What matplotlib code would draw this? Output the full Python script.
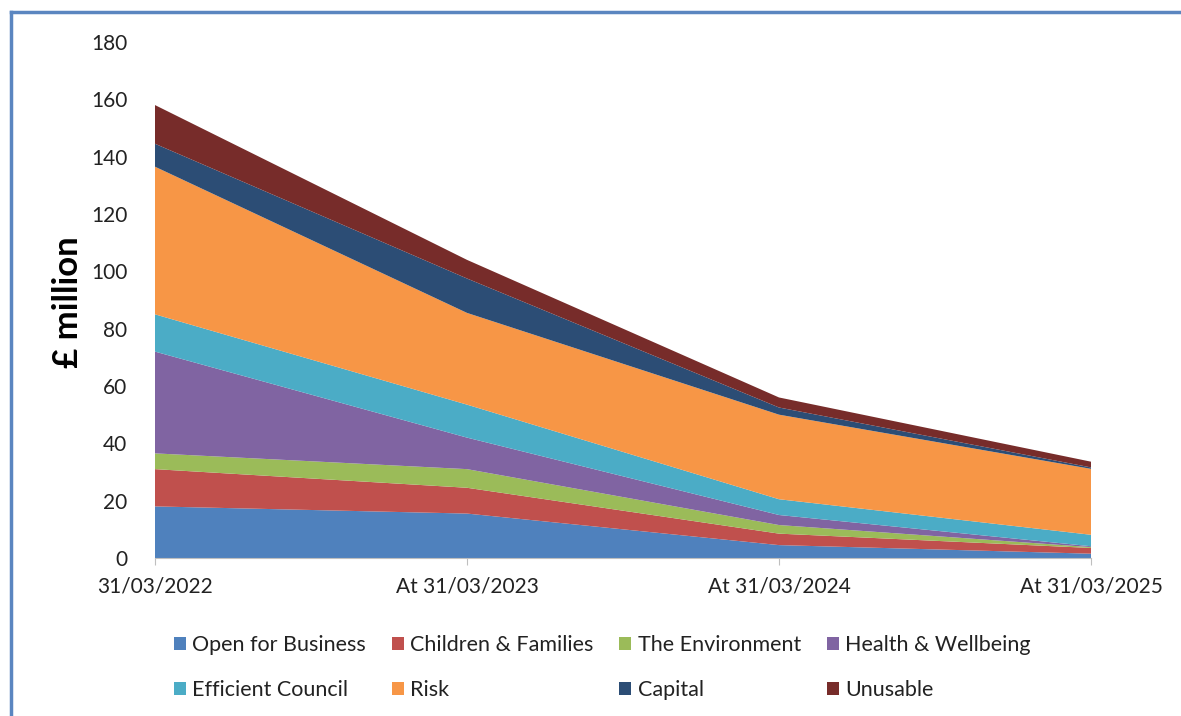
import numpy as np
import matplotlib
matplotlib.use("Agg")
from matplotlib import pyplot as plt
from matplotlib.patches import Patch

dates = ["31/03/2022", "At 31/03/2023", "At 31/03/2024", "At 31/03/2025"]
series = ["Open for Business", "Children & Families", "The Environment", "Health & Wellbeing",
          "Efficient Council", "Risk", "Capital", "Unusable"]
open_business = [18.0, 15.5, 4.5, 1.5]
children_families = [13.0, 9.0, 4.0, 2.0]
environment = [5.5, 6.5, 3.0, 0.3]
health_wellbeing = [35.5, 11.0, 3.5, 0.3]
efficient_council = [13.0, 11.5, 5.5, 4.0]
risk = [51.5, 32.0, 29.5, 23.0]
capital = [8.0, 12.0, 2.5, 0.5]
unusable = [13.5, 6.5, 3.5, 2.0]
colors = ["#4F81BD", "#C0504D", "#9BBB59", "#8064A2", "#4BACC6", "#F79646", "#2C4D75", "#772C2A"]

plt.rcParams["font.family"] = ["Lato", "DejaVu Sans"]

fig = plt.figure(figsize=(11.81, 7.16), dpi=100)
ax = fig.add_axes([155/1181, 1 - 558/716, (1091 - 155)/1181, (558 - 42)/716])

x = np.arange(len(dates))
values = [open_business, children_families, environment, health_wellbeing,
          efficient_council, risk, capital, unusable]
ax.stackplot(x, values, colors=colors, labels=series, linewidth=0)

ax.set_xlim(0, 3)
ax.set_ylim(0, 180)
ax.set_yticks(range(0, 181, 20))
ax.set_xticks(x)
ax.set_xticklabels(dates)
ax.tick_params(axis="y", length=0, pad=20, labelsize=15, labelcolor="#222222")
ax.tick_params(axis="x", length=5, color="#BFBFBF", pad=8, labelsize=15, labelcolor="#222222")
for s in ["top", "right", "left"]:
    ax.spines[s].set_visible(False)
ax.spines["bottom"].set_color("#BFBFBF")
ax.set_ylabel("£ million", fontsize=25, fontweight="bold")
ax.yaxis.set_label_coords((84 - 155) / 936, (558 - 302) / 516)

# legend in row-major order (matplotlib fills columns first)
order = [0, 4, 1, 5, 2, 6, 3, 7]
handles = [Patch(facecolor=colors[i], edgecolor="none") for i in order]
labels = [series[i] for i in order]
fig.legend(handles, labels, loc="center", bbox_to_anchor=(0.51, 0.068), ncol=4,
           frameon=False, fontsize=15.5, handlelength=0.55, handleheight=0.55,
           handletextpad=0.3, columnspacing=1.2, labelspacing=1.15,
           labelcolor="#222222")

# blue frame around the chart
fig.add_artist(plt.Line2D([11/1181, 11/1181], [0, 1 - 12/716], transform=fig.transFigure,
                          color="#5B86C0", lw=2.5))
fig.add_artist(plt.Line2D([11/1181, 1], [1 - 12/716, 1 - 12/716], transform=fig.transFigure,
                          color="#5B86C0", lw=2.5))

fig.savefig("out.png", dpi=100)
